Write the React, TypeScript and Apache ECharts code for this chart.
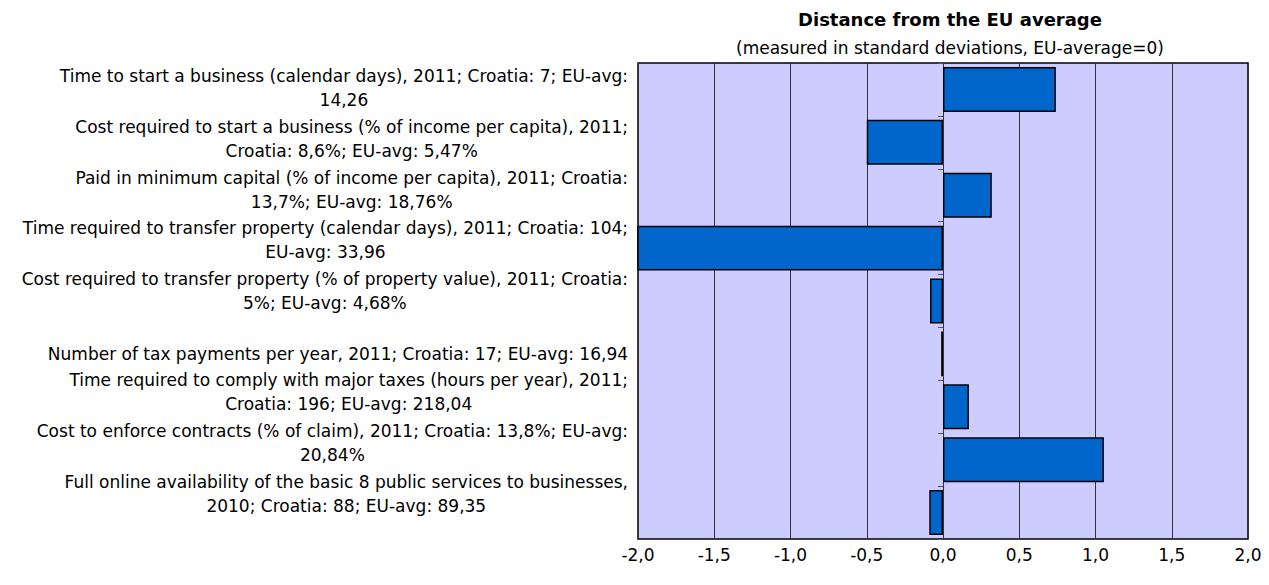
import React, { useEffect, useRef } from "react";
import * as echarts from "echarts";

const categories: string[] = [
  "Time to start a business (calendar days), 2011; Croatia: 7; EU-avg:\n14,26",
  "Cost required to start a business (% of income per capita), 2011;\nCroatia: 8,6%; EU-avg: 5,47%",
  "Paid in minimum capital (% of income per capita), 2011; Croatia:\n13,7%; EU-avg: 18,76%",
  "Time required to transfer property (calendar days), 2011; Croatia: 104;\nEU-avg: 33,96",
  "Cost required to transfer property (% of property value), 2011; Croatia:\n5%; EU-avg: 4,68%",
  "Number of tax payments per year, 2011; Croatia: 17; EU-avg: 16,94",
  "Time required to comply with major taxes (hours per year), 2011;\nCroatia: 196; EU-avg: 218,04",
  "Cost to enforce contracts (% of claim), 2011; Croatia: 13,8%; EU-avg:\n20,84%",
  "Full online availability of the basic 8 public services to businesses,\n2010; Croatia: 88; EU-avg: 89,35",
];

const distances: number[] = [0.74, -0.5, 0.32, -2.2, -0.085, -0.012, 0.17, 1.055, -0.09];

const titleText = "Distance from the EU average";
const subtitleText = "(measured in standard deviations, EU-average=0)";

const FONT = '"DejaVu Sans", sans-serif';

export default function App() {
  const ref = useRef<HTMLDivElement>(null);
  useEffect(() => {
    if (!ref.current) return;
    const chart = echarts.init(ref.current, undefined, { renderer: "svg" });
    chart.setOption({
      animation: false,
      backgroundColor: "#ffffff",
      title: [
        {
          text: titleText,
          left: 950,
          top: 10,
          padding: 0,
          textAlign: "center",
          textStyle: { fontFamily: FONT, fontSize: 18, fontWeight: "bold", color: "#000" },
        },
        {
          text: subtitleText,
          left: 950,
          top: 39,
          padding: 0,
          textAlign: "center",
          textStyle: { fontFamily: FONT, fontSize: 17, fontWeight: "normal", color: "#000" },
        },
      ],
      grid: [
        {
          left: 638,
          right: 21,
          top: 63,
          bottom: 46,
          show: true,
          backgroundColor: "#CCCCFF",
          borderColor: "#000",
          borderWidth: 1.5,
          containLabel: false,
        },
        {
          left: 638,
          right: 21,
          top: 63,
          bottom: 66,
          show: false,
          containLabel: false,
        },
      ],
      xAxis: [
        {
          type: "value",
          gridIndex: 0,
          min: -2,
          max: 2,
          interval: 0.5,
          axisLine: { show: false },
          axisTick: { show: false },
          splitLine: { show: true, lineStyle: { color: "#333", width: 1 } },
          axisLabel: {
            margin: 7,
            fontFamily: FONT,
            fontSize: 17,
            color: "#000",
            formatter: (v: number) => v.toFixed(1).replace(".", ","),
          },
        },
        {
          type: "value",
          gridIndex: 1,
          min: -2,
          max: 2,
          show: false,
        },
      ],
      yAxis: [
        {
          type: "category",
          gridIndex: 0,
          data: categories,
          inverse: true,
          axisLine: { show: true, onZero: true, lineStyle: { color: "#333", width: 1 } },
          axisTick: { show: true, length: 5, lineStyle: { color: "#555", width: 1 } },
          axisLabel: { show: false },
          splitLine: { show: false },
        },
        {
          type: "category",
          gridIndex: 1,
          data: categories,
          inverse: true,
          axisLine: { show: false, onZero: false },
          axisTick: { show: false },
          splitLine: { show: false },
          axisLabel: {
            show: true,
            interval: 0,
            margin: 10,
            align: "right",
            color: "#000",
            fontFamily: FONT,
            fontSize: 17,
            lineHeight: 24,
            formatter: (v: string) => {
              const lines = v.split("\n");
              // single-line labels sit on the lower line of a two-line box
              const shown = lines.length === 1 ? [" ", lines[0]] : lines;
              return shown.map((l) => "{c|" + l + "}").join("\n");
            },
            rich: {
              c: {
                align: "center",
                fontFamily: FONT,
                fontSize: 17,
                lineHeight: 24,
                color: "#000",
              },
            },
          },
        },
      ],
      series: [
        {
          type: "bar",
          xAxisIndex: 0,
          yAxisIndex: 0,
          data: distances,
          barCategoryGap: "15%",
          clip: true,
          itemStyle: { color: "#0066CC", borderColor: "#000", borderWidth: 1.5 },
        },
      ],
    });
    return () => chart.dispose();
  }, []);
  return (
    <div
      ref={ref}
      style={{ position: "absolute", left: 0, top: 0, width: 1269, height: 585 }}
    />
  );
}
